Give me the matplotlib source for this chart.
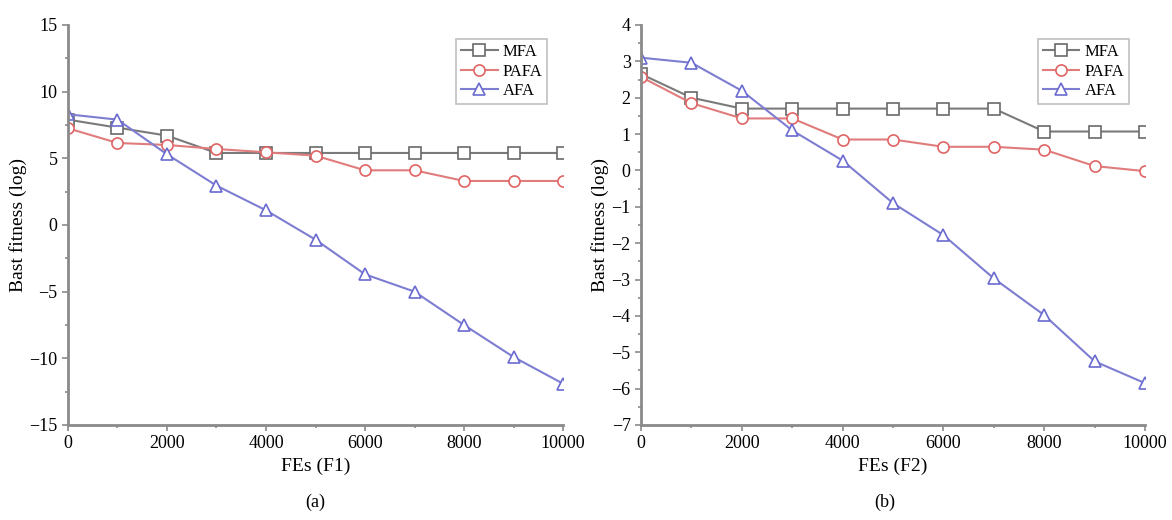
import matplotlib.pyplot as plt
from matplotlib.ticker import MultipleLocator

plt.rcParams['font.family'] = ['Liberation Serif', 'DejaVu Serif']

fes = [0, 1000, 2000, 3000, 4000, 5000, 6000, 7000, 8000, 9000, 10000]

# F1 (a)
mfa_f1 = [7.9, 7.3, 6.7, 5.4, 5.4, 5.4, 5.4, 5.4, 5.4, 5.4, 5.4]
pafa_f1 = [7.25, 6.15, 6.0, 5.7, 5.45, 5.2, 4.1, 4.1, 3.3, 3.3, 3.3]
afa_f1 = [8.3, 7.9, 5.3, 2.95, 1.1, -1.1, -3.7, -5.0, -7.5, -9.9, -11.9]

# F2 (b)
mfa_f2 = [2.65, 2.0, 1.7, 1.7, 1.7, 1.7, 1.7, 1.7, 1.07, 1.07, 1.07]
pafa_f2 = [2.57, 1.85, 1.43, 1.43, 0.85, 0.85, 0.65, 0.65, 0.57, 0.12, -0.02]
afa_f2 = [3.1, 2.96, 2.19, 1.1, 0.27, -0.9, -1.78, -2.97, -3.98, -5.25, -5.85]

styles = {
    'MFA': dict(color='#7a7a7a', marker='s', mec='#6a6a6a'),
    'PAFA': dict(color='#e07c7c', marker='o', mec='#e06464'),
    'AFA': dict(color='#7d7dd2', marker='^', mec='#6a6ad0'),
}

fig = plt.figure(figsize=(11.72, 5.2), dpi=100)
ax1 = fig.add_axes([0.058, 0.1827, 0.4224, 0.7693])
ax2 = fig.add_axes([0.547, 0.1827, 0.430, 0.7693])

panels = [
    (ax1, mfa_f1, pafa_f1, afa_f1, (-15, 15), 5, 2.5, 'FEs (F1)'),
    (ax2, mfa_f2, pafa_f2, afa_f2, (-7, 4), 1, 0.5, 'FEs (F2)'),
]

for ax, m, p, a, ylim, major, minor, xlabel in panels:
    for name, vals in [('MFA', m), ('PAFA', p), ('AFA', a)]:
        st = styles[name]
        ax.plot(fes, vals, color=st['color'], marker=st['marker'], mec=st['mec'],
                mfc='white', ms=8, lw=1.5, mew=1.2, label=name)
    ax.set_xlim(0, 10000)
    ax.set_ylim(*ylim)
    ax.xaxis.set_major_locator(MultipleLocator(2000))
    ax.xaxis.set_minor_locator(MultipleLocator(1000))
    ax.yaxis.set_major_locator(MultipleLocator(major))
    ax.yaxis.set_minor_locator(MultipleLocator(minor))
    for s in ['top', 'right']:
        ax.spines[s].set_visible(False)
    for s in ['left', 'bottom']:
        ax.spines[s].set_color('#8a8a8a')
        ax.spines[s].set_linewidth(2)
    ax.tick_params(which='both', color='#8a8a8a', labelsize=13, width=1.2)
    ax.tick_params(which='major', length=4)
    ax.tick_params(which='minor', length=2.5)
    ax.set_xlabel(xlabel, fontsize=14)
    ax.set_ylabel('Bast fitness (log)', fontsize=14, labelpad=2)
    leg = ax.legend(loc='upper right', fontsize=12, frameon=True, fancybox=False,
                    handlelength=2.2, borderpad=0.3, labelspacing=0.2, handletextpad=0.3,
                    bbox_to_anchor=(0.985, 0.985))
    leg.get_frame().set_edgecolor('#b0b0b0')
    leg.get_frame().set_linewidth(1.2)

fig.text(0.269, 0.025, '(a)', fontsize=13, ha='center')
fig.text(0.755, 0.025, '(b)', fontsize=13, ha='center')

fig.savefig('out.png', dpi=100)
